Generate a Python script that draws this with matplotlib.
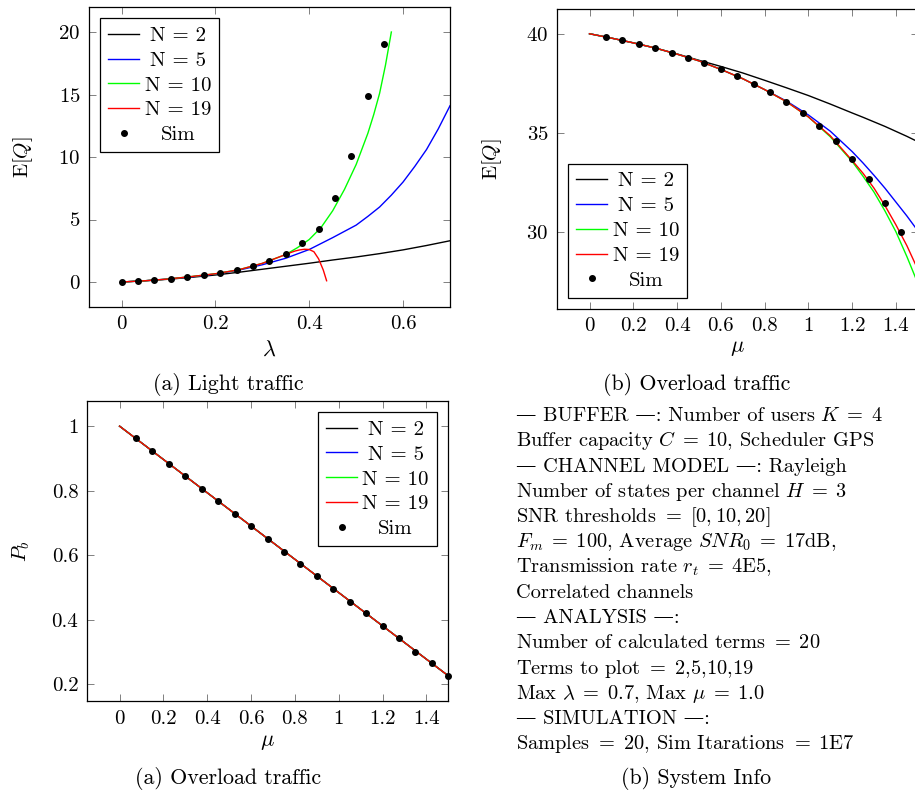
import numpy as np
import matplotlib
matplotlib.use('Agg')
import matplotlib.pyplot as plt

plt.rcParams['font.family'] = ['cmr10', 'DejaVu Serif']
plt.rcParams['mathtext.fontset'] = 'cm'
plt.rcParams['axes.formatter.use_mathtext'] = True
plt.rcParams['font.size'] = 15

# ---- (a) light traffic : E[Q] vs lambda ----
lam_n2 = [0, 0.05, 0.1, 0.15, 0.2, 0.25, 0.3, 0.35, 0.4, 0.45, 0.5, 0.55, 0.6, 0.65, 0.7]
light_n2 = [0, 0.1, 0.22, 0.38, 0.56, 0.78, 1.02, 1.26, 1.5, 1.76, 2.0, 2.27, 2.57, 2.92, 3.3]
lam_n5 = [0, 0.05, 0.1, 0.15, 0.2, 0.25, 0.3, 0.35, 0.4, 0.45, 0.5, 0.525, 0.55, 0.575,
          0.6, 0.625, 0.65, 0.675, 0.7]
light_n5 = [0, 0.1, 0.24, 0.42, 0.64, 0.95, 1.38, 1.9, 2.6, 3.55, 4.55, 5.25, 6.0, 6.95,
            8.0, 9.25, 10.6, 12.25, 14.1]
lam_n10 = [0, 0.05, 0.1, 0.15, 0.2, 0.25, 0.3, 0.35, 0.375, 0.4, 0.425, 0.45, 0.475,
           0.5, 0.525, 0.5375, 0.55, 0.5625, 0.575]
light_n10 = [0, 0.1, 0.24, 0.44, 0.66, 0.98, 1.49, 2.2, 2.75, 3.4, 4.35, 5.7, 7.4,
             9.4, 11.9, 13.4, 15.1, 17.35, 20.0]
lam_n19 = [0, 0.05, 0.1, 0.15, 0.2, 0.25, 0.3, 0.35, 0.36, 0.37, 0.38, 0.39, 0.4,
           0.41, 0.42, 0.43, 0.437]
light_n19 = [0, 0.1, 0.24, 0.44, 0.66, 0.98, 1.49, 2.2, 2.35, 2.48, 2.57, 2.62, 2.6,
             2.42, 1.85, 0.95, 0.1]
lam_sim = [0, 0.035, 0.07, 0.105, 0.14, 0.175, 0.21, 0.245, 0.28, 0.315, 0.35,
           0.385, 0.42, 0.455, 0.49, 0.525, 0.56]
light_sim = [0, 0.05, 0.16, 0.27, 0.40, 0.53, 0.72, 0.96, 1.27, 1.67, 2.23,
             3.16, 4.22, 6.72, 10.12, 14.87, 19.02]

# ---- (b) overload traffic : E[Q] vs mu ----
mu_grid = [0, 0.1, 0.2, 0.3, 0.4, 0.5, 0.6, 0.7, 0.8, 0.9, 1.0, 1.1, 1.2, 1.25, 1.3,
           1.35, 1.4, 1.45, 1.5]
over_n2 = [40, 39.78, 39.54, 39.28, 38.98, 38.66, 38.35, 38.02, 37.65, 37.27, 36.88,
           36.45, 36.0, 35.78, 35.55, 35.32, 35.07, 34.82, 34.55]
over_n5 = [40, 39.78, 39.54, 39.28, 38.97, 38.63, 38.2, 37.73, 37.18, 36.6, 35.9,
           35.08, 34.05, 33.47, 32.85, 32.2, 31.5, 30.8, 30.05]
over_n10 = [40, 39.78, 39.54, 39.28, 38.97, 38.63, 38.2, 37.73, 37.18, 36.57, 35.8,
            34.8, 33.55, 32.8, 32.0, 31.05, 30.0, 28.75, 27.4]
over_n19 = [40, 39.78, 39.54, 39.28, 38.97, 38.63, 38.2, 37.73, 37.18, 36.57, 35.8,
            34.85, 33.6, 32.95, 32.2, 31.32, 30.35, 29.3, 28.1]
mu_sim = [0.075, 0.15, 0.225, 0.3, 0.375, 0.45, 0.525, 0.6, 0.675, 0.75, 0.825, 0.9,
          0.975, 1.05, 1.125, 1.2, 1.275, 1.35, 1.425]
over_sim = [39.83, 39.66, 39.48, 39.28, 39.04, 38.80, 38.54, 38.20, 37.85, 37.46,
            37.04, 36.57, 35.98, 35.34, 34.56, 33.67, 32.69, 31.43, 30.00]

# ---- blocking probability vs mu ----
mu_pb = [0, 0.5, 1.0, 1.5]
pb_line = [1.0, 0.742, 0.484, 0.226]
mu_pb_sim = [0.075, 0.15, 0.225, 0.3, 0.375, 0.45, 0.525, 0.6, 0.675, 0.75, 0.825,
             0.9, 0.975, 1.05, 1.125, 1.2, 1.275, 1.35, 1.425, 1.5]
pb_sim = [0.962, 0.922, 0.883, 0.845, 0.806, 0.767, 0.729, 0.690, 0.651, 0.610,
          0.573, 0.534, 0.495, 0.456, 0.420, 0.381, 0.342, 0.301, 0.265, 0.226]

labels = ['N = 2', 'N = 5', 'N = 10', 'N = 19', 'Sim']
colors = ['black', 'blue', '#00ff00', 'red']

info_lines = [
    r'— BUFFER —: Number of users $K\;=\;4$',
    r'Buffer capacity $C\;=\;10$, Scheduler GPS',
    r'— CHANNEL MODEL —: Rayleigh',
    r'Number of states per channel $H\;=\;3$',
    r'SNR thresholds $=\;[0, 10, 20]$',
    r'$F_m\;=\;100$, Average $SNR_0\;=\;17$dB,',
    r'Transmission rate $r_t\;=\;4$E5,',
    r'Correlated channels',
    r'— ANALYSIS —:',
    r'Number of calculated terms $=\;20$',
    r'Terms to plot $=\;$2,5,10,19',
    r'Max $\lambda\;=\;0.7$, Max $\mu\;=\;1.0$',
    r'— SIMULATION —:',
    r'Samples $=\;20$, Sim Itarations $=\;1$E7',
]

W, H = 915, 793
fig = plt.figure(figsize=(W / 100, H / 100), dpi=100)


def px_axes(left, top, right, bottom):
    return fig.add_axes([left / W, 1 - bottom / H, (right - left) / W, (bottom - top) / H])


def style(ax):
    ax.tick_params(direction='in', top=True, right=True, length=5, width=0.7,
                   color='0.5', labelsize=15, pad=6)
    for s in ax.spines.values():
        s.set_linewidth(0.9)


legends = []


def legend(ax, loc):
    leg = ax.legend(loc=loc, fontsize=15, frameon=True, fancybox=False, framealpha=1,
                    edgecolor='black', handlelength=1.5, handletextpad=0.25,
                    labelspacing=0.3, borderpad=0.38, borderaxespad=0.55, numpoints=1)
    leg.get_frame().set_linewidth(0.9)
    legends.append(leg)


def labels_xy(ax, xl, yl, xy, yx):
    ax.set_xlabel(xl, fontsize=16)
    ax.set_ylabel(yl, fontsize=15)
    ax.xaxis.set_label_coords(0.5, xy)
    ax.xaxis.label.set_va('center')
    ax.yaxis.set_label_coords(yx, 0.5)
    ax.yaxis.label.set_va('center')


# top left
ax1 = px_axes(88.7, 7, 450, 307)
xs = [lam_n2, lam_n5, lam_n10, lam_n19]
ys = [light_n2, light_n5, light_n10, light_n19]
for x, y, c, l in zip(xs, ys, colors, labels):
    ax1.plot(x, y, color=c, lw=1.0, label=l)
ax1.plot(lam_sim, light_sim, 'o', color='black', ms=4, label=labels[4])
ax1.set_xlim(-0.07, 0.7)
ax1.set_ylim(-2, 22)
ax1.set_xticks([0, 0.2, 0.4, 0.6], ['0', '0.2', '0.4', '0.6'])
ax1.set_yticks([0, 5, 10, 15, 20])
style(ax1)
labels_xy(ax1, r'$\lambda$', r'E$[Q]$', -0.143, -0.182)
legend(ax1, 'upper left')

# top right
ax2 = px_axes(556.7, 9, 917.8, 309)
for y, c, l in zip([over_n2, over_n5, over_n10, over_n19], colors, labels):
    ax2.plot(mu_grid, y, color=c, lw=1.0, label=l)
ax2.plot(mu_sim, over_sim, 'o', color='black', ms=4, label=labels[4])
ax2.set_xlim(-0.15, 1.5)
ax2.set_ylim(26.1, 41.25)
mu_ticks = [0, 0.2, 0.4, 0.6, 0.8, 1.0, 1.2, 1.4]
mu_labels = ['0', '0.2', '0.4', '0.6', '0.8', '1', '1.2', '1.4']
ax2.set_xticks(mu_ticks, mu_labels)
ax2.set_yticks([30, 35, 40])
style(ax2)
labels_xy(ax2, r'$\mu$', r'E$[Q]$', -0.13, -0.18)
legend(ax2, 'lower left')

# bottom left
ax3 = px_axes(86.7, 401, 448.3, 701.3)
for c, l in zip(colors, labels):
    ax3.plot(mu_pb, pb_line, color=c, lw=1.0, label=l)
ax3.plot(mu_pb_sim, pb_sim, 'o', color='black', ms=4, label=labels[4], clip_on=False)
ax3.set_xlim(-0.15, 1.5)
ax3.set_ylim(0.147, 1.078)
ax3.set_xticks(mu_ticks, mu_labels)
ax3.set_yticks([0.2, 0.4, 0.6, 0.8, 1.0], ['0.2', '0.4', '0.6', '0.8', '1'])
style(ax3)
labels_xy(ax3, r'$\mu$', r'$P_b$', -0.136, -0.18)
legend(ax3, 'upper right')

# captions
fig.text(228 / W, 1 - 385 / H, '(a) Light traffic', ha='center', va='center', fontsize=15.8)
fig.text(696.5 / W, 1 - 385 / H, '(b) Overload traffic', ha='center', va='center', fontsize=15.8)
fig.text(228 / W, 1 - 778 / H, '(a) Overload traffic', ha='center', va='center', fontsize=15.8)
fig.text(696 / W, 1 - 778 / H, '(b) System Info', ha='center', va='center', fontsize=15.8)

renderer = fig.canvas.get_renderer()

# system info block (plain part and math part drawn apart when the line has an em dash)
for i, line in enumerate(info_lines):
    yb = 421 + i * 25.25
    if '—' in line and '$' in line:
        plain, rest = line.split('$', 1)
        segs = [plain.rstrip(), r'$\ ' + rest]
    else:
        segs = [line]
    x = 516
    for s in segs:
        t = fig.text(x / W, 1 - yb / H, s, ha='left', va='baseline', fontsize=14.7)
        x += t.get_window_extent(renderer).width

# centre legend entries like pgfplots does
fig.canvas.draw()
for leg in legends:
    texts = leg.get_texts()
    widths = [t.get_window_extent(renderer).width for t in texts]
    wmax = max(widths)
    for t, w in zip(texts, widths):
        t.set_x((wmax - w) / 2)

fig.savefig('out.png', dpi=100)
